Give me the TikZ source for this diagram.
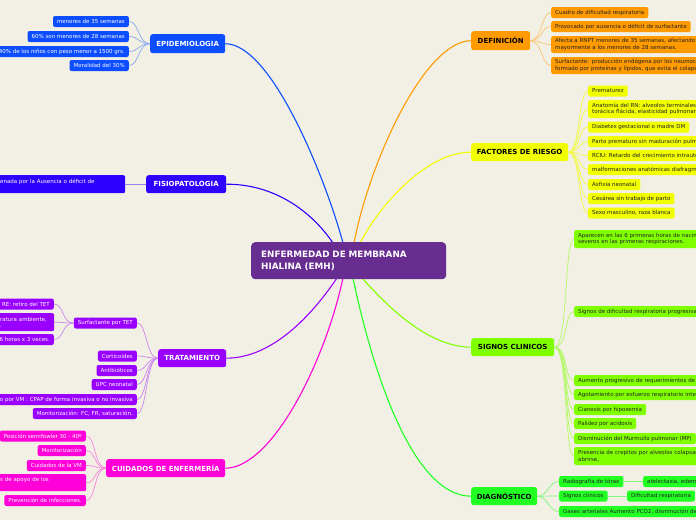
\documentclass[tikz,border=0pt]{standalone}
\usepackage{fontspec}
\setmainfont{DejaVu Sans}
\definecolor{bg}{HTML}{F2F0E4}
\definecolor{cen}{HTML}{672D91}
\definecolor{epi}{HTML}{0B4DFF}
\definecolor{fis}{HTML}{2E00FF}
\definecolor{tra}{HTML}{9A00FF}
\definecolor{cui}{HTML}{FF00D8}
\definecolor{def}{HTML}{FF9A00}
\definecolor{fac}{HTML}{F2FF00}
\definecolor{sig}{HTML}{80FF00}
\definecolor{dia}{HTML}{22FF22}
\definecolor{dtext}{HTML}{222222}
\tikzset{
  mainbox/.style={rounded corners=2.5pt, font=\bfseries\fontsize{7}{8}\selectfont, inner sep=0pt, anchor=north west},
  leaf/.style={rounded corners=2pt, font=\fontsize{5.5}{6.5}\selectfont, inner xsep=4pt, inner ysep=0pt, minimum height=11pt, align=left},
  dbl/.style={minimum height=18pt},
  clipr/.style={text width=200pt, anchor=west},
  epil/.style={leaf, fill=epi, text=white},
  fisl/.style={leaf, fill=fis, text=white},
  tral/.style={leaf, fill=tra, text=white},
  cuil/.style={leaf, fill=cui, text=white},
  defl/.style={leaf, fill=def, text=dtext},
  facl/.style={leaf, fill=fac, text=dtext},
  sigl/.style={leaf, fill=sig, text=dtext},
  dial/.style={leaf, fill=dia, text=dtext},
  mline/.style={line width=1.1pt},
  lline/.style={line width=0.7pt},
}
\begin{document}
\begin{tikzpicture}[x=1pt,y=-1pt]
\fill[bg] (0,0) rectangle (696,520);
\useasboundingbox (0,0) rectangle (696,520);
\clip (0,0) rectangle (696,520);

% main branch nodes
\node[mainbox, fill=epi, text=white, minimum width=75, minimum height=19] (epi) at (150,34) {EPIDEMIOLOGIA};
\node[mainbox, fill=fis, text=white, minimum width=80, minimum height=18] (fis) at (146,175) {FISIOPATOLOGIA};
\node[mainbox, fill=tra, text=white, minimum width=68, minimum height=18] (tra) at (158,349) {TRATAMIENTO};
\node[mainbox, fill=cui, text=white, minimum width=119, minimum height=18] (cui) at (106,459) {CUIDADOS DE ENFERMERÍA};
\node[mainbox, fill=def, text=black, minimum width=59, minimum height=19] (def) at (471,31) {DEFINICIÓN};
\node[mainbox, fill=fac, text=black, minimum width=97, minimum height=18] (fac) at (471,143) {FACTORES DE RIESGO};
\node[mainbox, fill=sig, text=black, minimum width=83, minimum height=18] (sig) at (471,338) {SIGNOS CLINICOS};
\node[mainbox, fill=dia, text=black, minimum width=66, minimum height=18] (dia) at (471,487) {DIAGNÓSTICO};

% attachment points on the central node
\coordinate (cEpi) at (343,243);
\coordinate (cFis) at (333,243);
\coordinate (cDef) at (354,243);
\coordinate (cFac) at (360,243);
\coordinate (cTra) at (337,278);
\coordinate (cCui) at (343,278);
\coordinate (cSig) at (362,278);
\coordinate (cDia) at (353,278);

% main connectors
\draw[mline, epi] (epi.east) .. controls (272,44) and (326,180) .. (cEpi);
\draw[mline, fis] (fis.east) .. controls (275,184) and (312,212) .. (cFis);
\draw[mline, def] (def.west) .. controls (425,41) and (370,160) .. (cDef);
\draw[mline, fac] (fac.west) .. controls (425,152) and (378,208) .. (cFac);
\draw[mline, tra] (tra.east) .. controls (280,358) and (322,300) .. (cTra);
\draw[mline, cui] (cui.east) .. controls (272,468) and (325,362) .. (cCui);
\draw[mline, sig] (sig.west) .. controls (425,347) and (382,300) .. (cSig);
\draw[mline, dia] (dia.west) .. controls (410,496) and (370,360) .. (cDia);

% central node
\node[rounded corners=4pt, fill=cen, text=white, anchor=north west, minimum width=195, minimum height=37, inner xsep=10pt, inner ysep=0pt, text width=175pt, align=left, font=\bfseries\fontsize{8.8}{12}\selectfont] (c) at (251,242) {ENFERMEDAD DE MEMBRANA\\HIALINA (EMH)};

% EPIDEMIOLOGIA leaves
\node[epil, anchor=east] (e1) at (129,21.5) {menores de 35 semanas};
\node[epil, anchor=east] (e2) at (129,36.5) {60\% son menores de 28 semanas};
\node[epil, anchor=east] (e3) at (129,51.5) {40\% de los niños con peso menor a 1500 grs.};
\node[epil, anchor=east] (e4) at (129,65.5) {Moralidad del 30\%};
\foreach \n in {e1,e2,e3,e4}
  \draw[lline, epi!45!bg] (epi.west) .. controls +(-12,0) and +(10,0) .. (\n.east);

% FISIOPATOLOGIA leaf
\node[fisl, dbl, anchor=north west, text width=121pt] (f1) at (-4,175) {enada por la Ausencia o déficit de\\\mbox{}};
\draw[lline, fis!45!bg] (fis.west) -- (f1.east);

% TRATAMIENTO leaves
\node[tral, anchor=east] (t1) at (137,323) {Surfactante por TET};
\node[tral, anchor=east] (t2) at (137,356) {Corticoides};
\node[tral, anchor=east] (t3) at (137,370.5) {Antibióticos};
\node[tral, anchor=east] (t4) at (137,384.5) {UPC neonatal};
\node[tral, anchor=east] (t5) at (137,399.5) {o por VM : CPAP de forma invasiva o no invasiva};
\node[tral, anchor=east] (t6) at (137,413.5) {Monitorización: FC, FR, saturación.};
\foreach \n in {t1,t2,t3,t4,t5,t6}
  \draw[lline, tra!45!bg] (tra.west) .. controls +(-12,0) and +(10,0) .. (\n.east);
\node[tral, anchor=east] (t11) at (54,304) {RE: retiro del TET};
\node[tral, dbl, anchor=north west, text width=50pt] (t12) at (-4,313) {ratura ambiente,\\.};
\node[tral, anchor=east] (t13) at (54,339.5) {6 horas x 3 veces.};
\foreach \n in {t11,t12,t13}
  \draw[lline, tra!45!bg] (t1.west) .. controls +(-12,0) and +(10,0) .. (\n.east);

% CUIDADOS leaves
\node[cuil, anchor=east] (k1) at (86,436) {Posición semifowler 30 - 40º};
\node[cuil, anchor=east] (k2) at (86,450.5) {Monitorización};
\node[cuil, anchor=east] (k3) at (86,465.5) {Cuidados de la VM};
\node[cuil, minimum height=17pt, anchor=north west, text width=82pt] (k4) at (-4,474) {s de apoyo de los\\\mbox{}};
\node[cuil, anchor=east] (k5) at (86,500.5) {Prevención de infecciones.};
\foreach \n in {k1,k2,k3,k4,k5}
  \draw[lline, cui!45!bg] (cui.west) .. controls +(-12,0) and +(10,0) .. (\n.east);

% DEFINICION leaves
\node[defl, anchor=west] (d1) at (551,12.5) {Cuadro de dificultad respiratoria};
\node[defl, anchor=west] (d2) at (551,26.5) {Provocado por ausencia o déficit de surfactante};
\node[defl, clipr, minimum height=17pt] (d3) at (551,44.5) {Afecta a RNPT menores de 35 semanas, afectando\\mayormente a los menores de 28 semanas.};
\node[defl, clipr, minimum height=17pt] (d4) at (551,65.5) {Surfactante: producción endógena por los neumocitos\\formado por proteínas y lípidos, que evita el colapso};
\foreach \n in {d1,d2,d3,d4}
  \draw[lline, def!50!bg] (def.east) .. controls +(12,0) and +(-10,0) .. (\n.west);

% FACTORES leaves
\node[facl, anchor=west] (r1) at (588,91) {Prematurez};
\node[facl, clipr, dbl] (r2) at (588,109) {Anatomía del RN: alveolos terminales\\torácica flácida, elasticidad pulmonar};
\node[facl, anchor=west] (r3) at (588,127) {Diabetes gestacional o madre DM};
\node[facl, clipr] (r4) at (588,141.5) {Parto prematuro sin maduración pulmonar};
\node[facl, clipr] (r5) at (588,155.5) {RCIU: Retardo del crecimiento intrauterino};
\node[facl, clipr] (r6) at (588,169.5) {malformaciones anatómicas diafragmáticas};
\node[facl, anchor=west] (r7) at (588,184.5) {Asfixia neonatal};
\node[facl, anchor=west] (r8) at (588,198.5) {Cesárea sin trabajo de parto};
\node[facl, anchor=west] (r9) at (588,213) {Sexo masculino, raza blanca};
\foreach \n in {r1,r2,r3,r4,r5,r6,r7,r8,r9}
  \draw[lline, fac!70!bg] (fac.east) .. controls +(12,0) and +(-10,0) .. (\n.west);

% SIGNOS leaves
\node[sigl, clipr, dbl] (s1) at (574,239) {Aparecen en las 6 primeras horas de nacimiento\\severos en las primeras respiraciones.};
\node[sigl, clipr] (s2) at (574,311.5) {Signos de dificultad respiratoria progresiva};
\node[sigl, clipr] (s3) at (574,380.5) {Aumento progresivo de requerimientos de};
\node[sigl, clipr] (s4) at (574,394.5) {Agotamiento por esfuerzo respiratorio intenso};
\node[sigl, anchor=west] (s5) at (574,409.5) {Cianosis por hipoxemia};
\node[sigl, anchor=west] (s6) at (574,423.5) {Palidez por acidosis};
\node[sigl, anchor=west] (s7) at (574,438.5) {Disminución del Murmullo pulmonar (MP)};
\node[sigl, clipr, dbl] (s8) at (574,456) {Presencia de crepitos por alveolos colapsados\\abrirse,};
\foreach \n in {s1,s2,s3,s4,s5,s6,s7,s8}
  \draw[lline, sig!55!bg] (sig.east) .. controls +(14,0) and +(-10,0) .. (\n.west);

% DIAGNOSTICO leaves
\node[dial, anchor=west] (g1) at (559,481.5) {Radiografía de tórax};
\node[dial, clipr] (g11) at (643,481.5) {atelectasia, edema};
\node[dial, anchor=west] (g2) at (559,496) {Signos clínicos};
\node[dial, anchor=west] (g21) at (627,496) {Dificultad respiratoria};
\node[dial, clipr] (g3) at (559,511.5) {Gases arteriales Aumento PCO2, disminución de};
\foreach \n in {g1,g2,g3}
  \draw[lline, dia!55!bg] (dia.east) .. controls +(10,0) and +(-10,0) .. (\n.west);
\draw[lline, dia!55!bg] (g1.east) -- (g11.west);
\draw[lline, dia!55!bg] (g2.east) -- (g21.west);
\end{tikzpicture}
\end{document}
